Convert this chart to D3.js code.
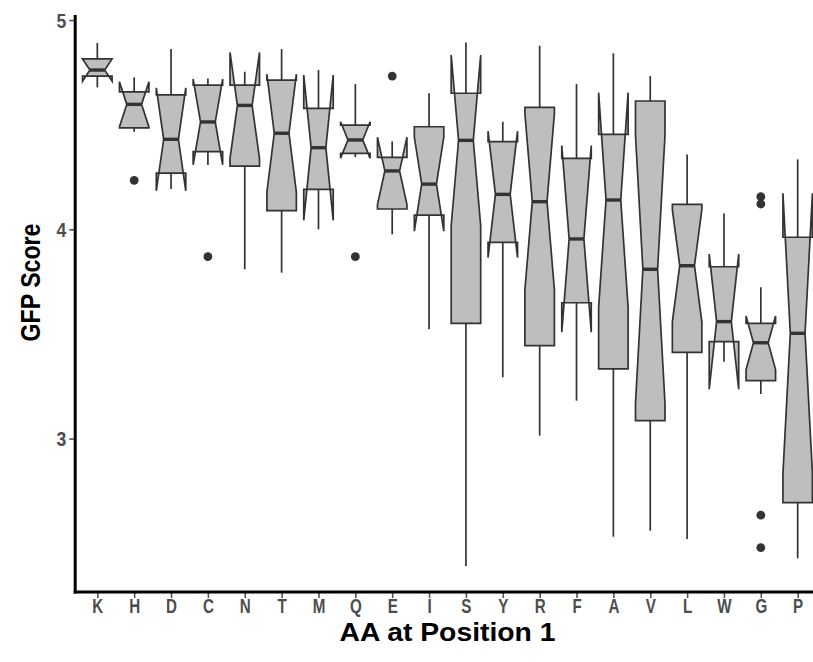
<!DOCTYPE html>
<html>
<head>
<meta charset="utf-8">
<script src="https://cdn.jsdelivr.net/npm/d3@7"></script>
<style>
  html, body { margin: 0; padding: 0; background: #ffffff; }
  svg { display: block; }
</style>
</head>
<body>
<svg id="chart" width="813" height="662"></svg>
<script>
// Amino acid at position 1, ordered by median GFP score
const categories = ["K","H","D","C","N","T","M","Q","E","I","S","Y","R","F","A","V","L","W","G","P"];

// Five-number summaries per amino acid
const whiskerHigh = [4.891, 4.726, 4.861, 4.721, 4.753, 4.861, 4.761, 4.694, 4.420, 4.650, 4.893, 4.514, 4.877, 4.694, 4.841, 4.732, 4.358, 4.076, 3.723, 4.334];
const upperHinge  = [4.814, 4.657, 4.642, 4.689, 4.689, 4.713, 4.578, 4.498, 4.344, 4.490, 4.650, 4.419, 4.583, 4.339, 4.454, 4.613, 4.119, 3.821, 3.551, 3.962];
const medians     = [4.761, 4.597, 4.430, 4.513, 4.592, 4.459, 4.390, 4.427, 4.279, 4.216, 4.425, 4.167, 4.132, 3.954, 4.140, 3.809, 3.826, 3.559, 3.458, 3.503];
const lowerHinge  = [4.732, 4.485, 4.268, 4.371, 4.302, 4.089, 4.191, 4.363, 4.097, 4.068, 3.551, 3.938, 3.444, 3.649, 3.333, 3.086, 3.412, 3.463, 3.277, 2.694];
const whiskerLow  = [4.678, 4.466, 4.193, 4.307, 3.809, 3.793, 4.000, 4.345, 3.976, 3.522, 2.391, 3.293, 3.014, 3.181, 2.531, 2.560, 2.520, 3.367, 3.213, 2.428];
// Notch half-height (1.58 * IQR / sqrt(n))
const notchHalf   = [0.053, 0.108, 0.246, 0.205, 0.253, 0.282, 0.347, 0.087, 0.161, 0.225, 0.408, 0.302, 0.420, 0.446, 0.513, 0.640, 0.268, 0.323, 0.128, 0.669];

// Outlying points
const outlierAA    = ["H", "C", "Q", "E", "G", "G", "G", "G"];
const outlierScore = [4.234, 3.869, 3.869, 4.732, 4.156, 4.121, 2.634, 2.479];

const yTicks = [3, 4, 5];
const xTitle = "AA at Position 1";
const yTitle = "GFP Score";

const svg = d3.select("#chart");
const W = 813, H = 662;
const panel = { left: 75.2, right: 819.8, top: 15, bottom: 592 };

const x = d3.scalePoint()
  .domain(categories)
  .range([panel.left, panel.right])
  .padding(0.6);

const y = d3.scaleLinear()
  .domain([2.267, 5.024])
  .range([panel.bottom, panel.top]);

const step = x.step();
const boxW = step * 0.8;
const indent = boxW * 0.25;

const boxes = categories.map((c, i) => ({
  c,
  lo: whiskerLow[i], q1: lowerHinge[i], med: medians[i], q3: upperHinge[i], hi: whiskerHigh[i],
  nl: medians[i] - notchHalf[i], nu: medians[i] + notchHalf[i]
}));

const stroke = "#333333";
const fill = "#bebebe";

const g = svg.append("g");

// Outliers
g.selectAll("circle.out")
  .data(outlierAA.map((a, i) => ({ a, v: outlierScore[i] })))
  .join("circle")
  .attr("class", "out")
  .attr("cx", d => x(d.a))
  .attr("cy", d => y(d.v))
  .attr("r", 4.4)
  .attr("fill", stroke);

// Whiskers
const wk = g.selectAll("g.box").data(boxes).join("g").attr("class", "box");
wk.append("line")
  .attr("x1", d => x(d.c)).attr("x2", d => x(d.c))
  .attr("y1", d => y(d.q3)).attr("y2", d => y(d.hi))
  .attr("stroke", stroke).attr("stroke-width", 1.7);
wk.append("line")
  .attr("x1", d => x(d.c)).attr("x2", d => x(d.c))
  .attr("y1", d => y(d.q1)).attr("y2", d => y(d.lo))
  .attr("stroke", stroke).attr("stroke-width", 1.7);

// Notched box outline
wk.append("path")
  .attr("d", d => {
    const xc = x(d.c), x0 = xc - boxW / 2, x1 = xc + boxW / 2;
    const pts = [
      [x0, y(d.q3)], [x0, y(d.nu)], [x0 + indent, y(d.med)], [x0, y(d.nl)], [x0, y(d.q1)],
      [x1, y(d.q1)], [x1, y(d.nl)], [x1 - indent, y(d.med)], [x1, y(d.nu)], [x1, y(d.q3)]
    ];
    return "M" + pts.map(p => p.join(",")).join("L") + "Z";
  })
  .attr("fill", fill)
  .attr("stroke", stroke)
  .attr("stroke-width", 1.7)
  .attr("stroke-linejoin", "miter");

// Median bar
wk.append("line")
  .attr("x1", d => x(d.c) - boxW / 2 + indent)
  .attr("x2", d => x(d.c) + boxW / 2 - indent)
  .attr("y1", d => y(d.med)).attr("y2", d => y(d.med))
  .attr("stroke", stroke).attr("stroke-width", 3.4);

// Axes
const fontFam = "'Liberation Sans', Arial, sans-serif";

const xAxis = svg.append("g")
  .attr("transform", `translate(0,${panel.bottom})`)
  .call(d3.axisBottom(x).tickSize(6).tickPadding(0));
const yAxis = svg.append("g")
  .attr("transform", `translate(${panel.left},0)`)
  .call(d3.axisLeft(y).tickValues(yTicks).tickFormat(d3.format("d")).tickSize(6).tickPadding(4));

[xAxis, yAxis].forEach(ax => {
  ax.select(".domain").remove();
  ax.selectAll(".tick line").attr("stroke", "#555555").attr("stroke-width", 1.6);
  ax.selectAll(".tick text")
    .attr("fill", "#4d4d4d")
    .style("font-family", fontFam)
    .style("font-weight", "bold")
    .style("font-size", "20px");
});
// Condensed letterforms for the category labels
xAxis.selectAll(".tick text")
  .attr("transform", "scale(0.76,1)")
  .attr("dy", "0.74em");
yAxis.selectAll(".tick text")
  .attr("transform", "scale(0.88,1)")
  .attr("dy", "0.36em");

// Axis lines
svg.append("line")
  .attr("x1", panel.left).attr("x2", panel.left)
  .attr("y1", panel.top).attr("y2", panel.bottom + 1.5)
  .attr("stroke", "#000").attr("stroke-width", 3);
svg.append("line")
  .attr("x1", panel.left - 1.5).attr("x2", W)
  .attr("y1", panel.bottom).attr("y2", panel.bottom)
  .attr("stroke", "#000").attr("stroke-width", 3);

// Titles
svg.append("text")
  .attr("x", (panel.left + panel.right) / 2)
  .attr("y", 641)
  .attr("text-anchor", "middle")
  .attr("textLength", 216)
  .attr("lengthAdjust", "spacingAndGlyphs")
  .style("font-family", fontFam)
  .style("font-weight", "bold")
  .style("font-size", "26px")
  .attr("fill", "#000")
  .text(xTitle);

svg.append("text")
  .attr("transform", `translate(40,${(panel.top + panel.bottom) / 2 - 21}) rotate(-90)`)
  .attr("text-anchor", "middle")
  .attr("textLength", 118)
  .attr("lengthAdjust", "spacingAndGlyphs")
  .style("font-family", fontFam)
  .style("font-weight", "bold")
  .style("font-size", "28px")
  .attr("fill", "#000")
  .text(yTitle);
</script>
</body>
</html>
